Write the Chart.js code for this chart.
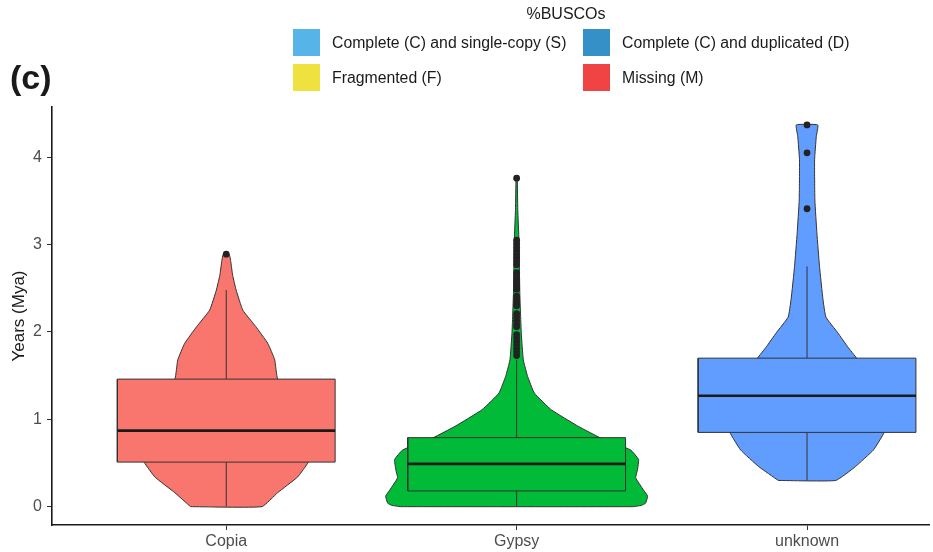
<!DOCTYPE html>
<html>
<head>
<meta charset="utf-8">
<script src="https://cdn.jsdelivr.net/npm/chart.js@4.4.1/dist/chart.umd.min.js"></script>
<style>
  html, body { margin: 0; padding: 0; background: #fff; }
  #wrap { position: relative; width: 933px; height: 552px; overflow: hidden; color: #1a1a1a;
          font-family: "Liberation Sans", Arial, sans-serif; }
  #wrap canvas { position: absolute; left: 0; top: 0; }
  .panel { position: absolute; left: 10px; top: 58px; font-size: 34px; font-weight: bold; line-height: 38px; }
  .lg-title { position: absolute; left: 466px; width: 200px; top: 4px; text-align: center;
              font-size: 16px; line-height: 20px; }
  .lg-key { position: absolute; width: 27px; height: 27px; }
  .lg-text { position: absolute; font-size: 15.8px; line-height: 20px; white-space: nowrap; }
</style>
</head>
<body>
<div id="wrap">
  <canvas id="chart" width="933" height="552"></canvas>
  <div class="panel">(c)</div>
  <div class="lg-title">%BUSCOs</div>
  <div id="legend"></div>
</div>
<script>
// ── Data ────────────────────────────────────────────────────────
const CATEGORIES = ["Copia", "Gypsy", "unknown"];
const FILLS      = ["#F8766D", "#00BA38", "#619CFF"];
const Y_TICKS    = [0, 1, 2, 3, 4];

// violin outline: levels (Mya) and half-width (in category units)
const COPIA_LEVELS = [0, 0.16, 0.34, 0.51, 0.7, 0.9, 1.1, 1.3, 1.46, 1.68, 1.87, 2.06, 2.25, 2.48, 2.65, 2.82, 2.89];
const COPIA_HALF   = [0.123, 0.177, 0.246, 0.283, 0.307, 0.307, 0.28, 0.225, 0.177, 0.167, 0.143, 0.102, 0.057, 0.034, 0.022, 0.015, 0.01];

const GYPSY_LEVELS = [0, 0.015, 0.04, 0.12, 0.19, 0.33, 0.42, 0.54, 0.65, 0.79, 0.92, 1.11, 1.3, 1.49, 1.68, 1.99, 2.44, 3.05, 3.4, 3.76];
const GYPSY_HALF   = [0.40, 0.43, 0.444, 0.451, 0.437, 0.41, 0.416, 0.42, 0.392, 0.287, 0.212, 0.119, 0.061, 0.038, 0.023, 0.016, 0.011, 0.008, 0.004, 0.002];

const UNKNOWN_LEVELS = [0.3, 0.46, 0.65, 0.85, 1.05, 1.27, 1.5, 1.7, 1.83, 1.99, 2.17, 2.37, 2.75, 3.13, 3.51, 3.97, 4.24, 4.37];
const UNKNOWN_HALF   = [0.099, 0.167, 0.229, 0.266, 0.29, 0.273, 0.222, 0.171, 0.14, 0.106, 0.065, 0.055, 0.043, 0.034, 0.027, 0.026, 0.032, 0.037];

// box stats: [lower whisker, q1, median, q3, upper whisker]
const COPIA_BOX   = [0, 0.51, 0.87, 1.46, 2.48];
const GYPSY_BOX   = [0, 0.18, 0.49, 0.79, 1.68];
const UNKNOWN_BOX = [0.3, 0.85, 1.27, 1.70, 2.75];

const COPIA_OUT   = [2.89];
const GYPSY_OUT   = [1.73, 1.77, 1.81, 1.85, 1.89, 1.93, 1.97, 2.06, 2.09, 2.13, 2.17, 2.21,
                     2.30, 2.33, 2.37, 2.41, 2.49, 2.52, 2.56, 2.60, 2.64, 2.68,
                     2.77, 2.81, 2.85, 2.89, 2.93, 2.97, 3.01, 3.05, 3.76];
const UNKNOWN_OUT = [3.41, 4.05, 4.37];

// legend keys (not tied to the plotted series)
const LEGEND_LABELS = ["Complete (C) and single-copy (S)", "Complete (C) and duplicated (D)", "Fragmented (F)", "Missing (M)"];
const LEGEND_COLORS = ["#56B4E9", "#3490C6", "#EFE23F", "#F04343"];

// ── Helpers ─────────────────────────────────────────────────────
const BOX_HALF = 0.375;
const OUTLINE  = "#333333";

function violinPath(center, levels, half) {
  const right = levels.map((v, i) => ({ x: center + half[i], y: v }));
  const left  = levels.map((v, i) => ({ x: center - half[i], y: v })).reverse();
  return [left[left.length - 1]].concat(right, left);
}

function lineDs(data, opts) {
  return Object.assign({
    type: "line", data, pointRadius: 0, borderColor: OUTLINE, borderWidth: 1,
    tension: 0, fill: false,
  }, opts);
}

function buildDatasets() {
  const levels = [COPIA_LEVELS, GYPSY_LEVELS, UNKNOWN_LEVELS];
  const halves = [COPIA_HALF, GYPSY_HALF, UNKNOWN_HALF];
  const boxes  = [COPIA_BOX, GYPSY_BOX, UNKNOWN_BOX];
  const outs   = [COPIA_OUT, GYPSY_OUT, UNKNOWN_OUT];
  const ds = [];
  CATEGORIES.forEach((cat, i) => {
    const c = i + 1;
    const [lo, q1, med, q3, hi] = boxes[i];
    ds.push(lineDs(violinPath(c, levels[i], halves[i]), {
      label: cat + " violin", backgroundColor: FILLS[i], fill: "shape", tension: 0.12, order: 5,
    }));
    ds.push(lineDs([{ x: c, y: q3 }, { x: c, y: hi }], { label: cat + " whisker hi", order: 4 }));
    ds.push(lineDs([{ x: c, y: lo }, { x: c, y: q1 }], { label: cat + " whisker lo", order: 4 }));
    ds.push(lineDs([
      { x: c - BOX_HALF, y: q1 }, { x: c + BOX_HALF, y: q1 }, { x: c + BOX_HALF, y: q3 },
      { x: c - BOX_HALF, y: q3 }, { x: c - BOX_HALF, y: q1 },
    ], { label: cat + " box", backgroundColor: FILLS[i], fill: "shape", order: 3 }));
    ds.push(lineDs([{ x: c - BOX_HALF, y: med }, { x: c + BOX_HALF, y: med }],
      { label: cat + " median", borderColor: "#1a1a1a", borderWidth: 2.6, order: 2 }));
    ds.push({
      type: "scatter", label: cat + " outliers", order: 1,
      data: outs[i].map(v => ({ x: c, y: v })),
      pointRadius: 3.4, pointBackgroundColor: "#222", pointBorderWidth: 0,
    });
  });
  return ds;
}

// ── Legend (HTML) ───────────────────────────────────────────────
function buildLegend() {
  const el = document.getElementById("legend");
  const cols = [293, 583];
  const rows = [29, 64];
  LEGEND_LABELS.forEach((lab, i) => {
    const x = cols[i % 2], y = rows[Math.floor(i / 2)];
    const key = document.createElement("div");
    key.className = "lg-key";
    key.style.left = x + "px"; key.style.top = y + "px";
    key.style.background = LEGEND_COLORS[i];
    const txt = document.createElement("div");
    txt.className = "lg-text";
    txt.style.left = (x + 39) + "px"; txt.style.top = (y + 4) + "px";
    txt.textContent = lab;
    el.appendChild(key); el.appendChild(txt);
  });
}

// ── Chart ───────────────────────────────────────────────────────
Chart.defaults.font.family = "'Liberation Sans', Arial, sans-serif";
Chart.defaults.font.size = 16;

new Chart(document.getElementById("chart"), {
  type: "line",
  data: { datasets: buildDatasets() },
  options: {
    responsive: false,
    animation: false,
    events: [],
    layout: { padding: { top: 107, left: 0, right: -3, bottom: 0 } },
    plugins: { legend: { display: false }, tooltip: { enabled: false } },
    scales: {
      x: {
        type: "linear", min: 0.4, max: 3.42,
        afterBuildTicks: s => { s.ticks = CATEGORIES.map((c, i) => ({ value: i + 1 })); },
        afterFit: s => { s.height = 27; },
        ticks: { color: "#4d4d4d", padding: 2, callback: v => CATEGORIES[v - 1] },
        grid: { drawOnChartArea: false, drawTicks: true, tickLength: 5, color: "#333" },
        border: { display: true, color: "#1a1a1a", width: 1.6 },
      },
      y: {
        type: "linear", min: -0.21, max: 4.575,
        afterBuildTicks: s => { s.ticks = Y_TICKS.map(v => ({ value: v })); },
        afterFit: s => { s.width = 52; },
        ticks: { color: "#4d4d4d", padding: 5 },
        grid: { drawOnChartArea: false, drawTicks: true, tickLength: 5, color: "#333" },
        border: { display: true, color: "#1a1a1a", width: 1.6 },
        title: { display: true, text: "Years (Mya)", color: "#1a1a1a", font: { size: 17 },
                 padding: { top: 9, bottom: 0 } },
      },
    },
  },
});

buildLegend();
</script>
</body>
</html>
